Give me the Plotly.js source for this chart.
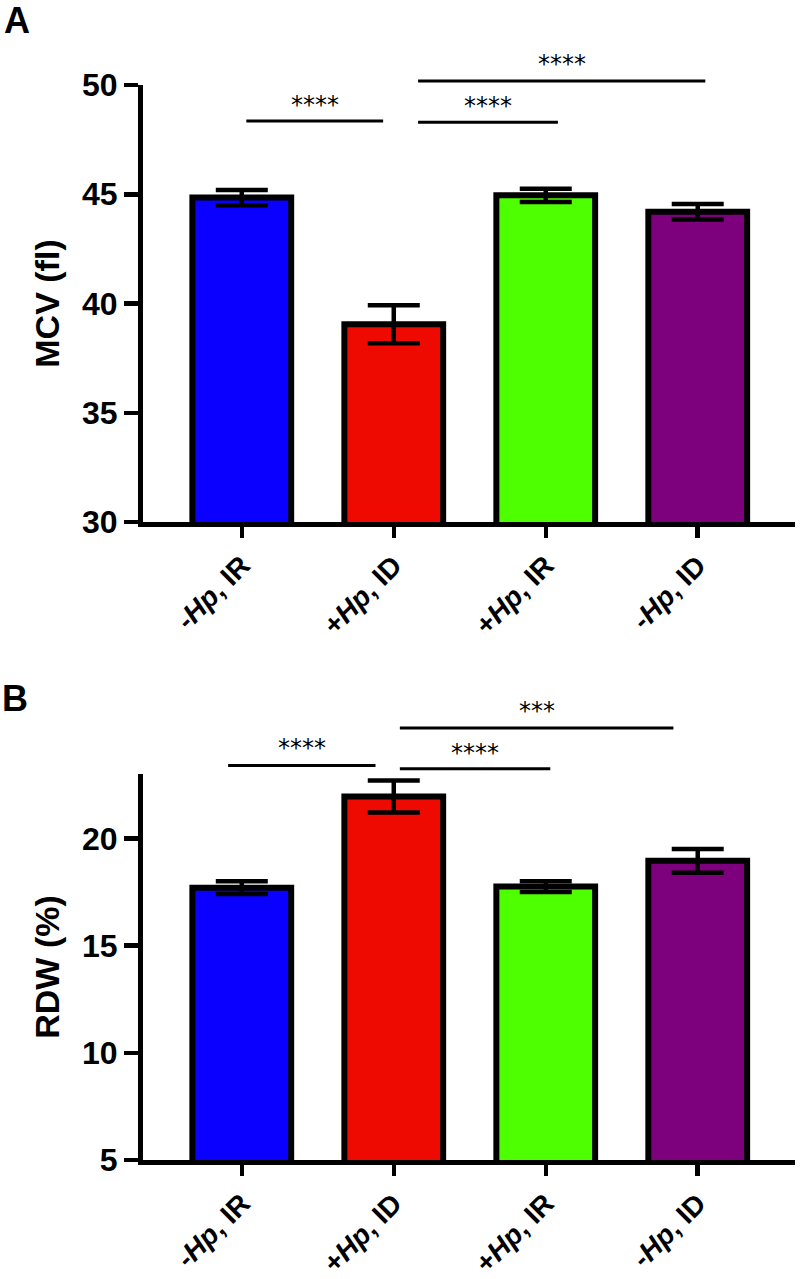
<!DOCTYPE html>
<html>
<head>
<meta charset="utf-8">
<script src="https://cdn.plot.ly/plotly-3.0.1.min.js"></script>
<style>html,body{margin:0;padding:0;background:#fff;}#chart{width:800px;height:1279px;}</style>
</head>
<body>
<div id="chart"></div>
<script>
// ---- data ----
const categories = ['-<i>Hp</i>, IR', '+<i>Hp</i>, ID', '+<i>Hp</i>, IR', '-<i>Hp</i>, ID'];
const barColors = ['#0A00FF', '#EE0A00', '#4DFF00', '#7D007D'];
const mcvMean = [44.85, 39.05, 44.95, 44.2];
const mcvErr = [0.35, 0.87, 0.3, 0.35];
const rdwMean = [17.7, 21.95, 17.75, 18.95];
const rdwErr = [0.3, 0.75, 0.25, 0.55];
const mcvTicks = [30, 35, 40, 45, 50];
const rdwTicks = [5, 10, 15, 20];
// significance comparisons: [from, to, label, yLine, yText]
const mcvSig = [
  [0.03, 0.93, '****', 48.35, 49.1],
  [1.16, 2.08, '****', 48.3, 49.05],
  [1.16, 3.05, '****', 50.18, 50.95]
];
const rdwSig = [
  [-0.09, 0.88, '****', 23.4, 24.2],
  [1.04, 2.03, '****', 23.25, 24.0],
  [1.04, 2.84, '***', 25.15, 25.95]
];

// ---- layout geometry ----
const W = 800, H = 1279;
const xRange = [-0.65, 3.64];
const mcvRange = [30, 50];
const rdwRange = [5, 23];
const py = p => 1 - p / H;
const xDom = [143 / W, 795 / W];
const topDom = [py(522), py(85)];
const botDom = [py(1160), py(774)];

const tickFont = {family: 'Liberation Sans, Arial, sans-serif', size: 32, color: '#000', weight: 'bold'};
const catFont = {family: 'Liberation Sans, Arial, sans-serif', size: 28, color: '#000', weight: 'bold'};
const titleFont = {family: 'Liberation Sans, Arial, sans-serif', size: 34, color: '#000', weight: 'bold'};

function barTrace(means, errs, xa, ya) {
  return {
    type: 'bar', x: categories, y: means, xaxis: xa, yaxis: ya,
    width: 0.65,
    marker: {color: barColors, line: {color: '#000', width: 6}},
    error_y: {type: 'data', array: errs, visible: true, color: '#000', thickness: 4.5, width: 26},
    hoverinfo: 'skip', showlegend: false
  };
}

const xAxisBase = {
  range: xRange, domain: xDom, type: 'category',
  showline: true, linecolor: '#000', linewidth: 5,
  ticks: 'outside', ticklen: 11, tickwidth: 4.5, tickcolor: '#000',
  tickangle: -45, tickfont: catFont, showgrid: false, zeroline: false,
  fixedrange: true
};
function yAxisBase(range, ticks, dom, title, anchor) {
  return {
    range: range, domain: dom, anchor: anchor,
    tickvals: ticks, ticktext: ticks.map(String),
    showline: true, linecolor: '#000', linewidth: 5,
    ticks: 'outside', ticklen: 14, tickwidth: 4.5, tickcolor: '#000',
    tickfont: tickFont, showgrid: false, zeroline: false,
    title: {text: title, font: titleFont, standoff: 14},
    fixedrange: true
  };
}

const shapes = [];
const annotations = [];
function addSig(list, yr, xa, ya) {
  list.forEach(s => {
    const fx0 = (s[0] - xRange[0]) / (xRange[1] - xRange[0]);
    const fx1 = (s[1] - xRange[0]) / (xRange[1] - xRange[0]);
    const fy = (s[3] - yr[0]) / (yr[1] - yr[0]);
    const fyt = (s[4] - yr[0]) / (yr[1] - yr[0]);
    shapes.push({type: 'line', xref: xa + ' domain', yref: ya + ' domain',
      x0: fx0, x1: fx1, y0: fy, y1: fy, line: {color: '#000', width: 3}});
    annotations.push({xref: xa + ' domain', yref: ya + ' domain', x: (fx0 + fx1) / 2, y: fyt,
      text: s[2], showarrow: false, xanchor: 'center', yanchor: 'middle',
      font: {family: 'DejaVu Sans, sans-serif', size: 24, color: '#000'}});
  });
}
addSig(mcvSig, mcvRange, 'x', 'y');
addSig(rdwSig, rdwRange, 'x2', 'y2');

annotations.push({xref: 'paper', yref: 'paper', x: 2 / W, y: py(20), text: 'A', showarrow: false,
  xanchor: 'left', yanchor: 'middle', font: {family: 'Liberation Sans, Arial, sans-serif', size: 36, color: '#000', weight: 'bold'}});
annotations.push({xref: 'paper', yref: 'paper', x: 0 / W, y: py(698), text: 'B', showarrow: false,
  xanchor: 'left', yanchor: 'middle', font: {family: 'Liberation Sans, Arial, sans-serif', size: 36, color: '#000', weight: 'bold'}});

const layout = {
  width: W, height: H,
  margin: {l: 0, r: 0, t: 0, b: 0},
  paper_bgcolor: '#fff', plot_bgcolor: '#fff',
  showlegend: false,
  xaxis: Object.assign({}, xAxisBase, {anchor: 'y'}),
  yaxis: yAxisBase(mcvRange, mcvTicks, topDom, 'MCV (fl)', 'x'),
  xaxis2: Object.assign({}, xAxisBase, {anchor: 'y2'}),
  yaxis2: yAxisBase(rdwRange, rdwTicks, botDom, 'RDW (%)', 'x2'),
  shapes: shapes,
  annotations: annotations
};

Plotly.newPlot('chart', [barTrace(mcvMean, mcvErr, 'x', 'y'), barTrace(rdwMean, rdwErr, 'x2', 'y2')], layout, {displayModeBar: false, staticPlot: true});
</script>
</body>
</html>
